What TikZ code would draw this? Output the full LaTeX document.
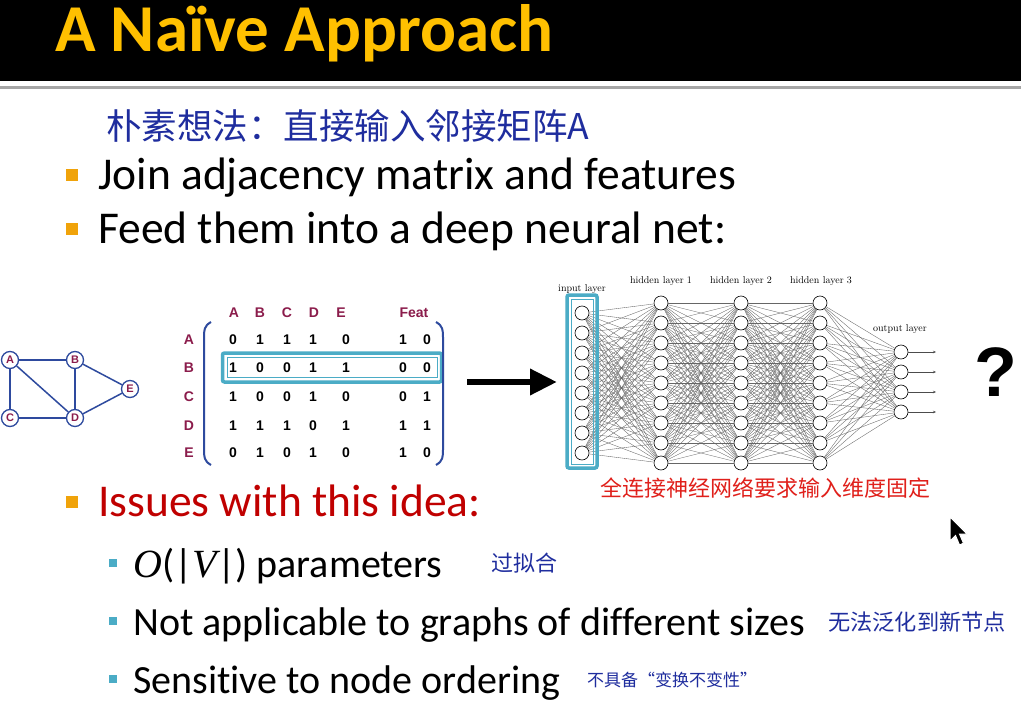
\documentclass[tikz,border=0pt]{standalone}
\usepackage{fontspec}
\usetikzlibrary{arrows.meta}
\setsansfont{Carlito}[Ligatures=CommonOff]
\newfontfamily\arialfont{Liberation Sans}
\newfontfamily\serifit{Liberation Serif}
\newfontfamily\cjk{Noto Sans CJK SC}
\definecolor{titleyellow}{HTML}{FFC000}
\definecolor{orangebullet}{HTML}{F0A30A}
\definecolor{tealbullet}{HTML}{4BACC6}
\definecolor{issuesred}{HTML}{C00000}
\definecolor{handblue}{HTML}{1F2D9E}
\definecolor{handred}{HTML}{E0201B}
\definecolor{maroon}{HTML}{8B1C4B}
\definecolor{graphblue}{HTML}{2E4A9E}
\tikzset{
  bodytext/.style={anchor=base west, inner sep=0, font=\sffamily\fontsize{45.5}{50}\selectfont},
  subtext/.style={anchor=base west, inner sep=0, font=\sffamily\fontsize{40}{44}\selectfont},
  bulletA/.style={rectangle, fill=orangebullet, minimum size=12, inner sep=0},
  bulletB/.style={rectangle, fill=tealbullet, minimum size=8, inner sep=0},
  gnode/.style={circle, draw=graphblue, line width=1.3, fill=white, minimum size=17, inner sep=0,
    font=\arialfont\bfseries\fontsize{11}{11}\selectfont, text=maroon},
  gedge/.style={draw=graphblue, line width=1.5},
  mval/.style={font=\arialfont\bfseries\fontsize{14}{14}\selectfont, inner sep=0},
  mhead/.style={font=\arialfont\bfseries\fontsize{14}{14}\selectfont, text=maroon, inner sep=0},
  paren/.style={draw=graphblue, line width=2},
  hlbox/.style={draw=tealbullet, line width=3.5, rounded corners=2, inner sep=0},
  hlinner/.style={draw=tealbullet, line width=0.7, inner sep=0},
  neuron/.style={circle, draw=black, line width=0.6, fill=white, minimum size=14, inner sep=0},
  syn/.style={draw=black!60, line width=0.35},
  nnlabel/.style={font=\rmfamily\fontsize{10}{10}\selectfont, inner sep=0},
  hand/.style={font=\cjk, text=handblue, inner sep=0},
}
\begin{document}
\begin{tikzpicture}[x=1pt,y=-1pt]
\useasboundingbox (0,0) rectangle (1021,704);
\fill[white] (0,0) rectangle (1021,704);
% title bar
\fill[black] (0,0) rectangle (1021,81);
\fill[black!35] (0,86) rectangle (1021,89);
\node[anchor=base west, inner sep=0, text=titleyellow, font=\sffamily\bfseries\fontsize{67}{72}\selectfont] (title) at (55,51) {A Naïve Approach};

% handwritten top note
\node[hand, anchor=west, font=\cjk\fontsize{35.5}{38}\selectfont] (note) at (106,126) {朴素想法：直接输入邻接矩阵A};

% bullets
\node[bulletA] (b1) at (72,175) {};
\node[bodytext] (t1) at (98,189) {Join adjacency matrix and features};
\node[bulletA] (b2) at (72,229) {};
\node[bodytext] (t2) at (98,243) {Feed them into a deep neural net:};

% graph
\node[gnode] (A) at (10,360) {A};
\node[gnode] (B) at (75,360) {B};
\node[gnode] (C) at (10,418) {C};
\node[gnode] (D) at (75,418) {D};
\node[gnode] (E) at (130,389) {E};
\draw[gedge] (A) -- (B);
\draw[gedge] (A) -- (C);
\draw[gedge] (A) -- (D);
\draw[gedge] (B) -- (D);
\draw[gedge] (B) -- (E);
\draw[gedge] (C) -- (D);
\draw[gedge] (D) -- (E);

% matrix headers
\foreach \h/\x in {A/234, B/260, C/287, D/314, E/341} {
  \node[mhead] (hc\h) at (\x,313) {\h};
}
\node[mhead] (hfeat) at (414,313) {Feat};
\foreach \h/\y in {A/340, B/368, C/397, D/426, E/453} {
  \node[mhead] (hr\h) at (189,\y) {\h};
}
% highlight for row B
\node[hlbox, minimum width=219, minimum height=29] (rowB) at (332,367.5) {};
\node[hlinner, minimum width=210, minimum height=20] (rowBin) at (332,367.5) {};
% matrix values
\foreach \r/\y/\vals in {A/340/{0,1,1,1,0,1,0}, B/368/{1,0,0,1,1,0,0}, C/397/{1,0,0,1,0,0,1}, D/426/{1,1,1,0,1,1,1}, E/453/{0,1,0,1,0,1,0}} {
  \foreach \v [count=\c] in \vals {
    \pgfmathsetmacro{\xx}{{233,260,287,313,346,403,427}[\c-1]}
    \node[mval] (m\r\c) at (\xx,\y) {\v};
  }
}
% parentheses
\draw[paren] (211,322) .. controls (204,326) and (204,330) .. (204,338) -- (204,449) .. controls (204,457) and (204,461) .. (211,465);
\draw[paren] (436,322) .. controls (443,326) and (443,330) .. (443,338) -- (443,449) .. controls (443,457) and (443,461) .. (436,465);

% big arrow
\coordinate (arrS) at (467,382);
\coordinate (arrE) at (557,382);
\draw[line width=6.5, -{Triangle[length=27pt,width=25pt]}] (arrS) -- (arrE);

% neural net
\foreach \i in {0,...,7} \node[neuron] (in\i) at (582,{313+20*\i}) {};
\foreach \i in {0,...,8} {
  \node[neuron] (ha\i) at (661,{303+20*\i}) {};
  \node[neuron] (hb\i) at (741,{303+20*\i}) {};
  \node[neuron] (hc\i) at (820,{303+20*\i}) {};
}
\foreach \i in {0,...,3} \node[neuron] (out\i) at (901,{352+20*\i}) {};
\foreach \i in {0,...,7} \foreach \j in {0,...,8} \draw[syn] (in\i) -- (ha\j);
\foreach \i in {0,...,8} \foreach \j in {0,...,8} {
  \draw[syn] (ha\i) -- (hb\j);
  \draw[syn] (hb\i) -- (hc\j);
}
\foreach \i in {0,...,8} \foreach \j in {0,...,3} \draw[syn] (hc\i) -- (out\j);
\foreach \i in {0,...,3} {
  \coordinate (oe\i) at (936,{352+20*\i});
  \draw[black!70, line width=0.5, -{Stealth[length=3pt,width=2.5pt]}] (out\i) -- (oe\i);
}
\node[hlbox, minimum width=30, minimum height=173] (inbox) at (582,381.5) {};
\node[hlinner, minimum width=22, minimum height=165] (inboxin) at (582,381.5) {};
\node[nnlabel] (lin) at (582,289) {input layer};
\node[nnlabel] (lh1) at (661,281) {hidden layer 1};
\node[nnlabel] (lh2) at (741,281) {hidden layer 2};
\node[nnlabel] (lh3) at (821,281) {hidden layer 3};
\node[nnlabel] (lout) at (900,329) {output layer};

% question mark
\node[inner sep=0, font=\arialfont\bfseries\fontsize{70}{70}\selectfont] (q) at (996,372) {?};

% red note
\node[inner sep=0, text=handred, font=\cjk\fontsize{22}{24}\selectfont] (rednote) at (765,488) {全连接神经网络要求输入维度固定};

% issues
\node[bulletA] (b3) at (72,502) {};
\node[bodytext, text=issuesred] (t3) at (98,516) {Issues with this idea:};
\node[bulletB] (s1) at (113,563) {};
\node[subtext] (u1) at (133,577) {{\serifit\itshape O}(|{\serifit\itshape V}|) parameters};
\node[bulletB] (s2) at (113,621) {};
\node[subtext] (u2) at (133,635) {Not applicable to graphs of different sizes};
\node[bulletB] (s3) at (113,679) {};
\node[subtext] (u3) at (133,693) {Sensitive to node ordering};
\node[hand, anchor=west, font=\cjk\fontsize{22}{24}\selectfont] (n1) at (491,563) {过拟合};
\node[hand, anchor=west, font=\cjk\fontsize{22.2}{24}\selectfont] (n2) at (828,622) {无法泛化到新节点};
\node[hand, anchor=west, font=\cjk\fontsize{17}{20}\selectfont] (n3) at (587,680) {不具备“变换不变性”};

% mouse cursor
\filldraw[fill=black, draw=white, line width=1] (950,517) -- (950,541) -- (955.5,535.5) -- (959.5,545) -- (963.5,543.2) -- (959.5,534) -- (967,534) -- cycle;
\end{tikzpicture}
\end{document}
